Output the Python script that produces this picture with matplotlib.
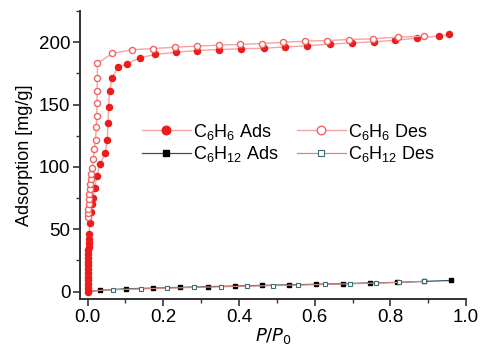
import matplotlib
matplotlib.use('Agg')
import matplotlib.pyplot as plt
from matplotlib.ticker import MultipleLocator

# benzene adsorption / desorption
bz_ads_p = [0, 0.0002, 0.0004, 0.0006, 0.0008, 0.001, 0.0012, 0.0014, 0.0016, 0.0018,
            0.002, 0.0023, 0.0026, 0.003, 0.0035, 0.004, 0.006, 0.0087, 0.011, 0.014,
            0.0185, 0.0246, 0.0334, 0.0466, 0.052, 0.054, 0.0556, 0.058, 0.065, 0.080,
            0.104, 0.1376, 0.178, 0.2336, 0.29, 0.348, 0.406, 0.465, 0.522, 0.579,
            0.641, 0.698, 0.757, 0.813, 0.870, 0.928, 0.956]
bz_ads_q = [0, 3, 6, 9, 12, 15, 18, 21, 24, 27,
            30, 33, 36, 39, 42, 46, 55, 64, 70, 75,
            83, 93, 102.7, 110.8, 122, 135.4, 148.2, 160.8, 171.5, 180,
            182.7, 187.5, 190.2, 192, 193.4, 194.2, 194.8, 195.2, 196.3, 197.2,
            198.5, 199.5, 200.4, 201.6, 203.4, 205, 206.3]

bz_des_p = [0.001, 0.0015, 0.002, 0.003, 0.004, 0.005, 0.006, 0.007, 0.008, 0.010,
            0.012, 0.015, 0.018, 0.021, 0.023, 0.024, 0.025, 0.025, 0.026, 0.026,
            0.065, 0.117, 0.174, 0.231, 0.288, 0.346, 0.403, 0.460, 0.517, 0.575,
            0.632, 0.691, 0.753, 0.820, 0.888]
bz_des_q = [60, 63, 66, 70, 74, 78, 82, 86, 90, 94,
            99, 106, 114, 122, 132, 141, 151, 161, 171, 183,
            191, 194, 195, 196, 196.9, 197.7, 198.3, 199, 200, 200.9,
            201.4, 202.2, 202.8, 204.1, 204.9]

# cyclohexane adsorption / desorption
ch_ads_p = [0, 0.032, 0.102, 0.174, 0.245, 0.317, 0.389, 0.461, 0.532, 0.604,
            0.676, 0.747, 0.817, 0.889, 0.961]
ch_ads_q = [0, 1, 2.3, 2.8, 3.4, 4, 4.5, 5, 5.5, 5.9,
            6.4, 7, 7.4, 8.2, 9]
ch_des_p = [0.004, 0.068, 0.14, 0.21, 0.281, 0.352, 0.42, 0.491, 0.557, 0.628,
            0.694, 0.763, 0.822, 0.89]
ch_des_q = [0.5, 1.6, 2.2, 2.8, 3.4, 3.9, 4.4, 4.9, 5.3, 5.8,
            6.3, 6.9, 7.4, 8.3]

plt.rcParams['font.family'] = ['Liberation Sans', 'DejaVu Sans']
plt.rcParams['mathtext.default'] = 'regular'

fig = plt.figure(figsize=(4.82, 3.47), dpi=100)
ax = fig.add_axes([0.166, 0.138, 0.801, 0.830])

ax.plot(ch_ads_p, ch_ads_q, '-s', color='#2f5866', lw=0.9, ms=3.4,
        mfc='black', mec='black', label=r'C$_6$H$_{12}$ Ads', zorder=2)
ax.plot(ch_des_p, ch_des_q, '-s', color='#d08a80', lw=0.9, ms=3.4,
        mfc='white', mec='#3d6b78', mew=0.8, label=r'C$_6$H$_{12}$ Des', zorder=3)
ax.plot(bz_ads_p, bz_ads_q, '-o', color='#f5a3a3', lw=1.0, ms=4.4,
        mfc='#ec1c1c', mec='#ec1c1c', label=r'C$_6$H$_6$ Ads', zorder=4)
ax.plot(bz_des_p, bz_des_q, '-o', color='#f5a3a3', lw=1.0, ms=4.4,
        mfc='white', mec='#f06464', mew=1.0, label=r'C$_6$H$_6$ Des', zorder=5)

ax.set_xlim(-0.02, 1.0)
ax.set_ylim(-6, 225)
ax.xaxis.set_major_locator(MultipleLocator(0.2))
ax.xaxis.set_minor_locator(MultipleLocator(0.1))
ax.yaxis.set_major_locator(MultipleLocator(50))
ax.yaxis.set_minor_locator(MultipleLocator(25))
ax.set_xticks([0.0, 0.2, 0.4, 0.6, 0.8, 1.0])
ax.set_xticklabels(['0.0', '0.2', '0.4', '0.6', '0.8', '1.0'])

for s in ['top', 'right']:
    ax.spines[s].set_visible(False)
for s in ['left', 'bottom']:
    ax.spines[s].set_linewidth(1.4)
    ax.spines[s].set_color('#333333')
ax.tick_params(which='major', direction='out', length=5, width=1.2,
               color='#333333', labelsize=13.5, pad=2)
ax.tick_params(which='minor', direction='out', length=3, width=1.0, color='#333333')

ax.set_xlabel(r'$\mathit{P/P_0}$', fontsize=13, labelpad=0)
ax.set_ylabel('Adsorption [mg/g]', fontsize=13, labelpad=4)

h, l = ax.get_legend_handles_labels()
order = [2, 0, 3, 1]
ax.legend([h[i] for i in order], [l[i] for i in order], ncol=2, frameon=False,
          loc='center', bbox_to_anchor=(0.54, 0.542), fontsize=13,
          handlelength=2.7, handletextpad=0.15, columnspacing=1.0,
          labelspacing=0.15, markerscale=1.4, borderpad=0.2)

fig.savefig('out.png', dpi=100)
